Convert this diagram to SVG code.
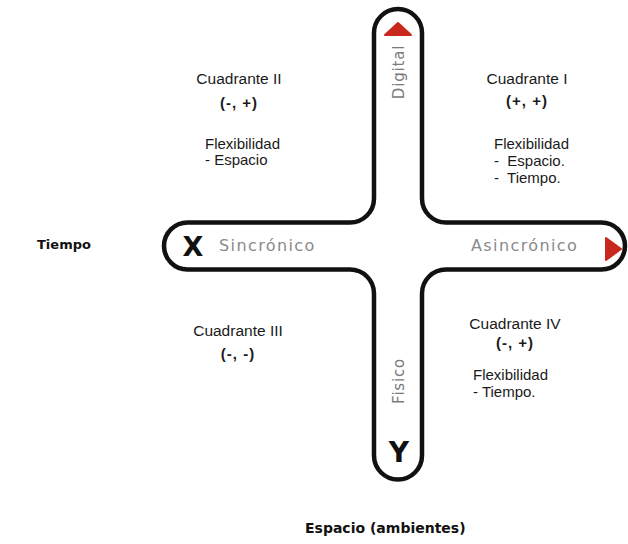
<svg xmlns="http://www.w3.org/2000/svg" width="628" height="544" viewBox="0 0 628 544">
<style>
.q{font-family:"Liberation Sans",Arial,sans-serif;font-size:15.5px;fill:#1a1a1a}
.s{font-family:"Liberation Sans",Arial,sans-serif;font-size:15px;font-weight:bold;fill:#1a1a1a;letter-spacing:1px}
.f{font-family:"Liberation Sans",Arial,sans-serif;font-size:15px;fill:#1a1a1a}
.g{font-family:"DejaVu Sans",Verdana,sans-serif;font-size:16px;fill:#8a8a8a;letter-spacing:1.4px}
.v{font-family:"DejaVu Sans",Verdana,sans-serif;font-size:15px;fill:#7a7a7a;letter-spacing:0.8px}
.b{font-family:"DejaVu Sans",Verdana,sans-serif;font-weight:bold;fill:#111}
.ar{fill:#c9281d;stroke:#c9281d;stroke-width:2;stroke-linejoin:round}
</style>
<rect width="628" height="544" fill="#ffffff"/>
<g id="connectors">
<path id="cross" d="M 374 33 A 24 24 0 0 1 422 33 L 422 198.5 A 24 24 0 0 0 446 222.5 L 601.5 222.5 A 23.5 23.5 0 0 1 601.5 269.5 L 446 269.5 A 24 24 0 0 0 422 293.5 L 422 455.5 A 24 24 0 0 1 374 455.5 L 374 293.5 A 24 24 0 0 0 350 269.5 L 187.5 269.5 A 23.5 23.5 0 0 1 187.5 222.5 L 350 222.5 A 24 24 0 0 0 374 198.5 Z" fill="none" stroke="#111" stroke-width="4.5" stroke-linejoin="round"/>
<polygon class="ar" points="398,23 385,35 411,35"/>
<polygon class="ar" points="621,249 606,238 606,260"/>
</g>
<g id="axis-x">
<text class="b" x="193" y="256" font-size="27" text-anchor="middle">X</text>
<text class="g" x="219" y="251">Sincrónico</text>
<text class="g" x="471" y="251">Asincrónico</text>
</g>
<g id="axis-y">
<text class="v" transform="translate(404,72) rotate(-90)" text-anchor="middle">Digital</text>
<text class="v" transform="translate(404,381) rotate(-90)" text-anchor="middle">Fisico</text>
<text class="b" x="399" y="462" font-size="28" text-anchor="middle">Y</text>
</g>
<g id="q2">
<text class="q" x="239" y="84" text-anchor="middle">Cuadrante II</text>
<text class="s" x="239" y="108" text-anchor="middle">(-, +)</text>
<text class="f" x="205" y="149">Flexibilidad</text>
<text class="f" x="205" y="165">- Espacio</text>
</g>
<g id="q1">
<text class="q" x="527" y="84" text-anchor="middle">Cuadrante I</text>
<text class="s" x="527" y="106" text-anchor="middle">(+, +)</text>
<text class="f" x="494" y="149">Flexibilidad</text>
<text class="f" x="494" y="166" xml:space="preserve">-  Espacio.</text>
<text class="f" x="494" y="183" xml:space="preserve">-  Tiempo.</text>
</g>
<g id="q3">
<text class="q" x="238" y="336" text-anchor="middle">Cuadrante III</text>
<text class="s" x="238" y="359" text-anchor="middle">(-, -)</text>
</g>
<g id="q4">
<text class="q" x="515" y="329" text-anchor="middle">Cuadrante IV</text>
<text class="s" x="515" y="348" text-anchor="middle">(-, +)</text>
<text class="f" x="473" y="380">Flexibilidad</text>
<text class="f" x="473" y="397">- Tiempo.</text>
</g>
<g id="labels">
<text class="b" x="37" y="249" font-size="13">Tiempo</text>
<text class="b" x="305" y="533" font-size="14">Espacio (ambientes)</text>
</g>
</svg>
